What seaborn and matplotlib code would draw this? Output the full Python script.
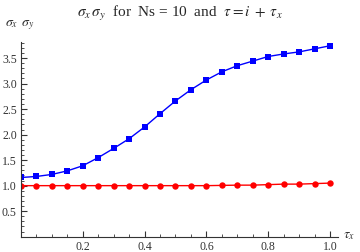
import numpy as np
import pandas as pd
import seaborn as sns
import matplotlib.pyplot as plt
from matplotlib.ticker import MultipleLocator

tau_x = [0.0, 0.05, 0.1, 0.15, 0.2, 0.25, 0.3, 0.35, 0.4, 0.45, 0.5,
         0.55, 0.6, 0.65, 0.7, 0.75, 0.8, 0.85, 0.9, 0.95, 1.0]
sigma_x = [1.16, 1.18, 1.22, 1.29, 1.39, 1.55, 1.73, 1.92, 2.15, 2.41, 2.66,
           2.88, 3.07, 3.23, 3.35, 3.44, 3.53, 3.58, 3.62, 3.68, 3.74]
sigma_y = [1.0, 1.0, 1.0, 1.0, 1.0, 1.0, 1.0, 1.0, 1.0, 1.0, 1.0,
           1.0, 1.0, 1.005, 1.01, 1.01, 1.02, 1.03, 1.03, 1.04, 1.05]
x_ticks = [0.2, 0.4, 0.6, 0.8, 1.0]
y_ticks = [0.5, 1.0, 1.5, 2.0, 2.5, 3.0, 3.5]

sns.set_style("white")
plt.rcParams["font.family"] = ["Liberation Serif", "DejaVu Serif"]
plt.rcParams["mathtext.fontset"] = "stix"

df = pd.DataFrame({"tau": tau_x, "sx": sigma_x, "sy": sigma_y})

fig = plt.figure(figsize=(3.6, 2.52), dpi=100)
ax = fig.add_axes([21 / 360, 15.3 / 252, 317 / 360, 195 / 252])

sns.lineplot(data=df, x="tau", y="sy", ax=ax, color="#ff0000", marker="o",
             markersize=4.6, markeredgewidth=0, linewidth=1.0)
sns.lineplot(data=df, x="tau", y="sx", ax=ax, color="#0000ff", marker="s",
             markersize=4.2, markeredgewidth=0, linewidth=1.0)

ax.set_xlim(0, 1.026)
ax.set_ylim(0, 3.82)
ax.set_xticks(x_ticks)
ax.set_yticks(y_ticks)
ax.set_xticklabels([f"{t:.1f}" for t in x_ticks])
ax.set_yticklabels([f"{t:.1f}" for t in y_ticks])
ax.xaxis.set_minor_locator(MultipleLocator(0.05))
ax.yaxis.set_minor_locator(MultipleLocator(0.1))
ax.tick_params(which="both", bottom=True, left=True)
ax.tick_params(which="major", direction="in", length=4, width=0.8,
               labelsize=8.5, colors="#333333", labelcolor="#333333", pad=3)
ax.tick_params(which="minor", direction="in", length=2, width=0.6, colors="#333333")
for side in ["top", "right"]:
    ax.spines[side].set_visible(False)
for side in ["left", "bottom"]:
    ax.spines[side].set_color("#333333")
    ax.spines[side].set_linewidth(0.8)
ax.set_xlabel("")
ax.set_ylabel("")

fig.text(0.5, 0.985, r"$\sigma_x\,\sigma_y$  for  Ns = 10  and  $\tau = i\; +\; \tau_x$",
         ha="center", va="top", fontsize=11)
fig.text(5 / 360, 1 - 25 / 252, r"$\sigma_x\;\,\sigma_y$", ha="left", va="center",
         fontsize=10, color="#333333")
fig.text(343 / 360, 1 - 236 / 252, r"$\tau_x$", ha="left", va="center",
         fontsize=10, color="#333333")

fig.savefig("out.png", dpi=100)
